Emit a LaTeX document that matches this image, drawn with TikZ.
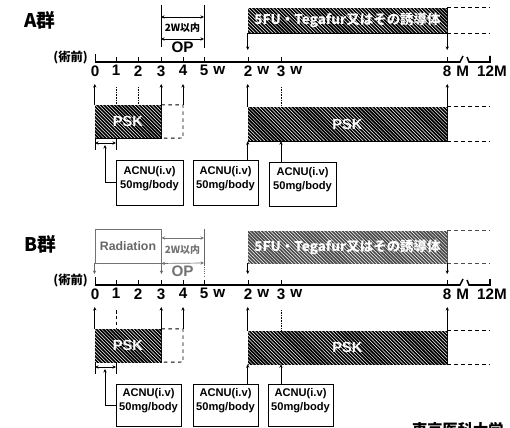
\documentclass[tikz,border=0pt]{standalone}
\usepackage{fontspec}
\setmainfont{Liberation Sans}
\newfontfamily\jp{Noto Sans CJK JP}
\usetikzlibrary{arrows.meta, positioning, fit, patterns}

\begin{document}
\begin{tikzpicture}[x=0.03cm, y=-0.03cm,
  hatch/.style={draw=black, fill=black, inner sep=0pt,
    postaction={pattern=north west lines, pattern color=white}},
  ghatch/.style={hatch, draw=black!70, fill=black!70},
  htext/.style={text=white, font=\bfseries\fontsize{12.5}{12}\selectfont},
  fuText/.style={text=white, font=\jp\bfseries\fontsize{11.5}{12}\selectfont},
  cbox/.style={draw, thick, fill=white, inner sep=0pt, align=left,
    font=\bfseries\fontsize{9.5}{12}\selectfont},
  ext/.style={dashed, thick},
  ar/.style={-{Stealth[length=3pt,width=2.8pt]}, semithick},
  dar/.style={{Stealth[length=3pt,width=2.8pt]}-{Stealth[length=3pt,width=2.8pt]}, semithick},
  axis/.style={line width=1.3pt},
  lbl/.style={font=\bfseries\fontsize{13}{13}\selectfont, inner sep=1pt},
  grp/.style={font=\jp\bfseries\fontsize{16}{16}\selectfont},
  pre/.style={font=\jp\bfseries\fontsize{10.5}{10}\selectfont},
  small/.style={font=\jp\bfseries\fontsize{8.5}{8}\selectfont, inner sep=0pt}
]
  \useasboundingbox (0,0) rectangle (510,428);

  % ---------------- A group ----------------
  \node[grp, anchor=west] (gA) at (20,20) {A群};
  \coordinate (topA) at (0,50);
  \coordinate (botA) at (0,84);
  % time axis
  \draw[axis] (95,62) -- (460,62) -- (463,56);
  \draw[axis] (467,57) -- (469,62) -- (490,62) -- (490,56);
  \draw[semithick] (95,62) -- (95,54);
  \foreach \x in {116,138,161,183,204,248,281,447}
    \draw[semithick] (\x,62) -- (\x,57);
  \node[pre, anchor=east] (preA) at (92,57) {(術前)};
  \node[lbl, anchor=north] (a0) at (95,64) {0};
  \node[lbl, anchor=north] (a1) at (116,64) {1};
  \node[lbl, anchor=north] (a2) at (138,64) {2};
  \node[lbl, anchor=north] (a3) at (161,64) {3};
  \node[lbl, anchor=north] (a4) at (183,64) {4};
  \node[lbl, anchor=north] (a5) at (204,64) {5};
  \node[lbl, right=2pt of a5] {w};
  \node[lbl, anchor=north] (a6) at (248,64) {2};
  \node[lbl, right=2pt of a6] {w};
  \node[lbl, anchor=north] (a7) at (281,64) {3};
  \node[lbl, right=2pt of a7] {w};
  \node[lbl, anchor=north] (a8) at (447,64) {8};
  \node[lbl, right=2pt of a8] {M};
  \node[lbl, anchor=north] (a9) at (492,64) {12M};
  % OP
  \coordinate (opA1) at (161,5);
  \coordinate (opA2) at (204,5);
  \draw[thick] (opA1) -- ++(0,42);
  \draw[thick] (opA2) -- ++(0,43);
  \draw[dar] (161,17) -- (204,17);
  \node[small] (lmA) at (182.5,28) {2W以内};
  \draw[dar] (161,39) -- (204,39);
  \node[lbl] (opA) at (182.5,47) {OP};
  % 5FU
  \node[hatch, fit={(248,8) (447,33)}] (fuA) {};
  \node[fuText] at (fuA.center) {5FU・Tegafur又はその誘導体};
  \draw[ext] (fuA.north east) -- ++(43,0);
  \draw[ext] (fuA.south east) -- ++(43,0);
  \draw[ar] (fuA.south west) -- (fuA.south west |- topA);
  \draw[ar] (fuA.south east) -- (fuA.south east |- topA);
  % PSK
  \node[hatch, fit={(95,105) (161,138)}] (pskA1) {};
  \node[htext] at (pskA1.center) {PSK};
  \coordinate (extA) at (183,105);
  \draw[ext] (pskA1.north east) -- (extA) -- (183,138) -- (pskA1.south east);
  \node[hatch, fit={(248,107) (447,141)}] (pskA2) {};
  \node[htext] at (pskA2.center) {PSK};
  \draw[ext] (pskA2.north east) -- ++(43,0);
  \draw[ext] (pskA2.south east) -- ++(43,0);
  \draw[ar] (pskA1.north west) -- (pskA1.north west |- botA);
  \draw[ar] (pskA1.north east) -- (pskA1.north east |- botA);
  \draw[ar] (extA) -- (extA |- botA);
  \draw[ar] (pskA2.north west) -- (pskA2.north west |- botA);
  \draw[ar] (pskA2.north east) -- (pskA2.north east |- botA);
  \draw[densely dotted] (116,87) -- (116,105);
  \draw[densely dotted] (138,87) -- (138,105);
  \draw[densely dotted] (281,87) -- (281,107);
  % ACNU
  \draw (95,138) -- (95,150);
  \draw (116,138) -- (116,150);
  \draw[dar] (95,143) -- (116,143);
  \coordinate (ivA) at (105,145);
  \node[cbox, fit={(116,160) (183,205)}] (acA1) {ACNU(i.v)\\50mg/body};
  \node[cbox, fit={(193,160) (258,205)}] (acA2) {ACNU(i.v)\\50mg/body};
  \node[cbox, fit={(269,162) (336,206)}] (acA3) {ACNU(i.v)\\50mg/body};
  \draw[ar] (acA1.west) -| (ivA);
  \draw[ar] (acA2.north -| pskA2.south west) -- (pskA2.south west);
  \draw[ar] (acA3.north -| a7) -- (pskA2.south -| a7);

  % ---------------- B group ----------------
  \node[grp, anchor=west] (gB) at (20,244) {B群};
  \coordinate (topB) at (0,274);
  \coordinate (botB) at (0,307);
  % time axis
  \draw[axis] (95,285) -- (460,285) -- (463,279);
  \draw[axis] (467,280) -- (469,285) -- (490,285) -- (490,279);
  \draw[semithick] (95,285) -- (95,277);
  \foreach \x in {116,138,161,183,204,248,281,447}
    \draw[semithick] (\x,285) -- (\x,280);
  \node[pre, anchor=east] (preB) at (92,280) {(術前)};
  \node[lbl, anchor=north] (b0) at (95,287) {0};
  \node[lbl, anchor=north] (b1) at (116,287) {1};
  \node[lbl, anchor=north] (b2) at (138,287) {2};
  \node[lbl, anchor=north] (b3) at (161,287) {3};
  \node[lbl, anchor=north] (b4) at (183,287) {4};
  \node[lbl, anchor=north] (b5) at (204,287) {5};
  \node[lbl, right=2pt of b5] {w};
  \node[lbl, anchor=north] (b6) at (248,287) {2};
  \node[lbl, right=2pt of b6] {w};
  \node[lbl, anchor=north] (b7) at (281,287) {3};
  \node[lbl, right=2pt of b7] {w};
  \node[lbl, anchor=north] (b8) at (447,287) {8};
  \node[lbl, right=2pt of b8] {M};
  \node[lbl, anchor=north] (b9) at (492,287) {12M};
  % Radiation, OP
  \node[draw=black!55, thick, inner sep=0pt, fit={(95,229) (161,263)}] (radB) {};
  \node[text=black!60, font=\bfseries\fontsize{10.5}{10}\selectfont] at (radB.center) {Radiation};
  \coordinate (opB) at (204,229);
  \draw[black!60, thick] (opB) -- ++(0,36);
  \draw[black!60, densely dotted, thick] (204,265) -- (204,277);
  \draw[dar, black!55] (radB.east |- 0,238) -- (204,238);
  \node[small, text=black!55] (lmB) at (182.5,250) {2W以内};
  \draw[dar, black!55] (radB.south east) -- (204,263);
  \node[lbl, text=black!55] (opBl) at (182.5,271) {OP};
  \draw[ar, black!60] (radB.south west) -- (radB.south west |- topB);
  \draw[ar, black!60] (radB.south east) -- (radB.south east |- topB);
  % 5FU
  \node[ghatch, fit={(248,231) (447,263)}] (fuB) {};
  \node[fuText] at (fuB.center) {5FU・Tegafur又はその誘導体};
  \draw[ext, black!70] (fuB.north east) -- ++(43,0);
  \draw[ext, black!70] (fuB.south east) -- ++(43,0);
  \draw[ar] (fuB.south west) -- (fuB.south west |- topB);
  \draw[ar] (fuB.south east) -- (fuB.south east |- topB);
  % PSK
  \node[hatch, fit={(95,329) (161,362)}] (pskB1) {};
  \node[htext] at (pskB1.center) {PSK};
  \coordinate (extB) at (183,329);
  \draw[ext] (pskB1.north east) -- (extB) -- (183,362) -- (pskB1.south east);
  \node[hatch, fit={(248,331) (447,364)}] (pskB2) {};
  \node[htext] at (pskB2.center) {PSK};
  \draw[ext] (pskB2.north east) -- ++(43,0);
  \draw[ext] (pskB2.south east) -- ++(43,0);
  \draw[ar] (pskB1.north west) -- (pskB1.north west |- botB);
  \draw[ar] (pskB1.north east) -- (pskB1.north east |- botB);
  \draw[ar] (extB) -- (extB |- botB);
  \draw[ar] (pskB2.north west) -- (pskB2.north west |- botB);
  \draw[ar] (pskB2.north east) -- (pskB2.north east |- botB);
  \draw[densely dashed] (116,310) -- (116,329);
  \draw[densely dotted] (281,310) -- (281,331);
  % ACNU
  \draw (95,362) -- (95,374);
  \draw (116,362) -- (116,374);
  \draw[dar] (95,367) -- (116,367);
  \coordinate (ivB) at (105,369);
  \node[cbox, fit={(116,384) (181,426)}] (acB1) {ACNU(i.v)\\50mg/body};
  \node[cbox, fit={(193,384) (258,426)}] (acB2) {ACNU(i.v)\\50mg/body};
  \node[cbox, fit={(268,384) (333,426)}] (acB3) {ACNU(i.v)\\50mg/body};
  \draw[ar] (acB1.west) -| (ivB);
  \draw[ar] (acB2.north -| pskB2.south west) -- (pskB2.south west);
  \draw[ar] (acB3.north -| b7) -- (pskB2.south -| b7);

  % source, cut off at the lower edge
  \node[font=\jp\bfseries\fontsize{13}{13}\selectfont, anchor=north west, inner sep=0pt]
    (src) at (412,422) {東京医科大学};
\end{tikzpicture}
\end{document}
